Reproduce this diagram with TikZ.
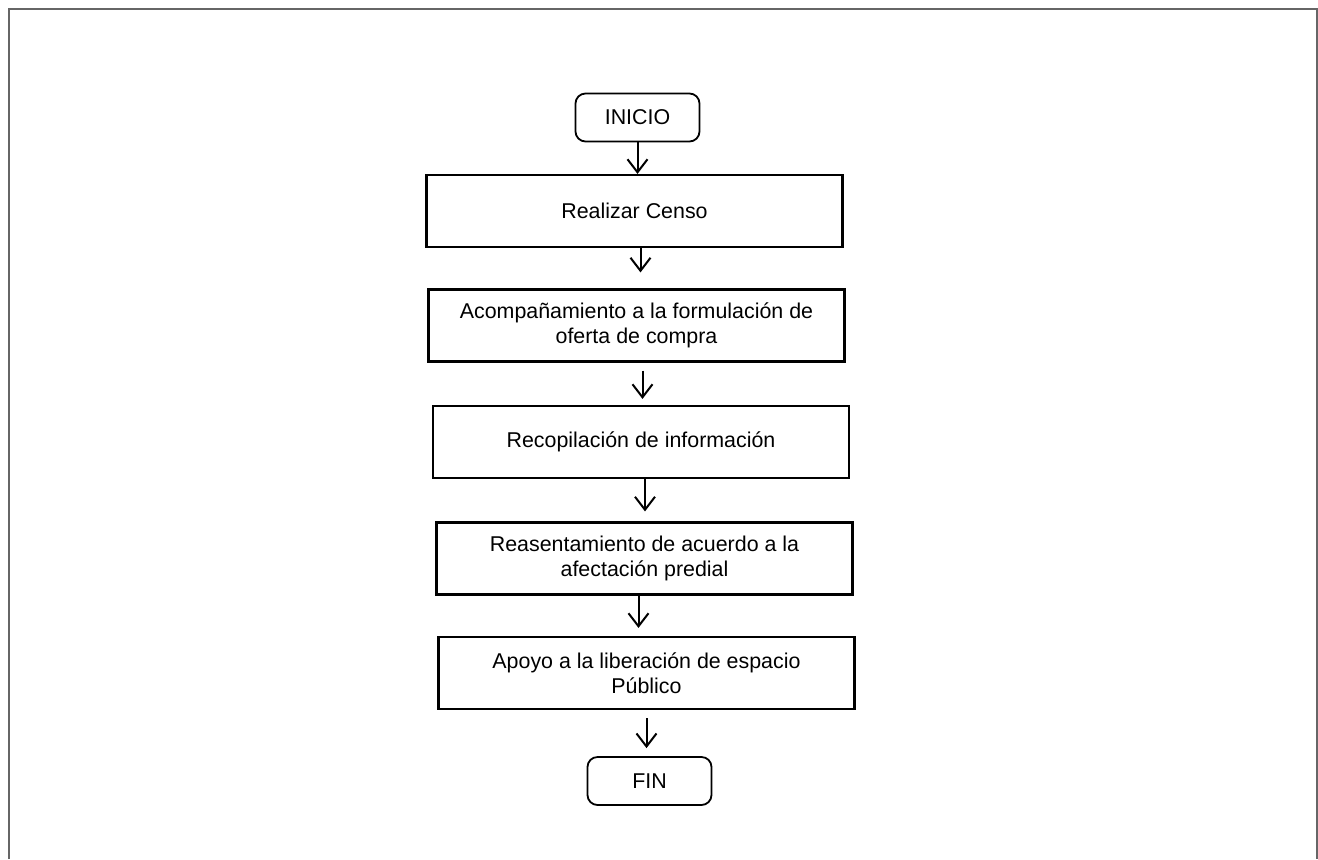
\documentclass[tikz,border=0pt]{standalone}
\usepackage{fontspec}
\setmainfont{Liberation Sans}
\usetikzlibrary{arrows.meta}

\begin{document}
\begin{tikzpicture}[x=0.5pt, y=-0.5pt,
  paso/.style={draw, line width=1.1pt, minimum width=208pt, minimum height=36pt,
    align=center, inner sep=2pt, font=\fontsize{10.7}{12.5}\selectfont},
  terminal/.style={draw, line width=0.9pt, rounded corners=5pt, minimum width=62pt,
    minimum height=24pt, font=\fontsize{10.7}{12.5}\selectfont},
  flecha/.style={-{Straight Barb[length=6.5pt, width=10pt, line width=1pt]}, line width=1pt}]

\useasboundingbox (0,0) rectangle (1318,859);

% Outer frame of the page
\draw[gray!80!black, line width=0.8pt] (9,859) -- (9,9) -- (1317,9) -- (1317,859);

% Terminals
\node[terminal] (inicio) at (637.5,117.5) {INICIO};
\node[terminal] (fin) at (649.5,781) {FIN};

% Process steps
\node[paso] (censo) at (634.5,211) {Realizar Censo};
\node[paso] (oferta) at (636.5,325.5) {Acompañamiento a la formulación de\\oferta de compra};
\node[paso] (info) at (641,442) {Recopilación de información};
\node[paso] (reasent) at (644.5,558.5) {Reasentamiento de acuerdo a la\\afectación predial};
\node[paso] (apoyo) at (646.5,673) {Apoyo a la liberación de espacio\\Público};

% Arrows between steps
\draw[flecha] (inicio.south) -- (inicio.south |- censo.north);
\draw[flecha, shorten >=8pt] ([xshift=3pt]censo.south) -- ([xshift=3pt]censo.south |- oferta.north);
\draw[flecha, shorten <=4pt, shorten >=3pt] ([xshift=3pt]oferta.south) -- ([xshift=3pt]oferta.south |- info.north);
\draw[flecha, shorten >=5pt] ([xshift=2pt]info.south) -- ([xshift=2pt]info.south |- reasent.north);
\draw[flecha, shorten >=4pt] ([xshift=-3pt]reasent.south) -- ([xshift=-3pt]reasent.south |- apoyo.north);
\draw[flecha, shorten <=4pt, shorten >=4pt] (apoyo.south) -- (apoyo.south |- fin.north);

\end{tikzpicture}
\end{document}
